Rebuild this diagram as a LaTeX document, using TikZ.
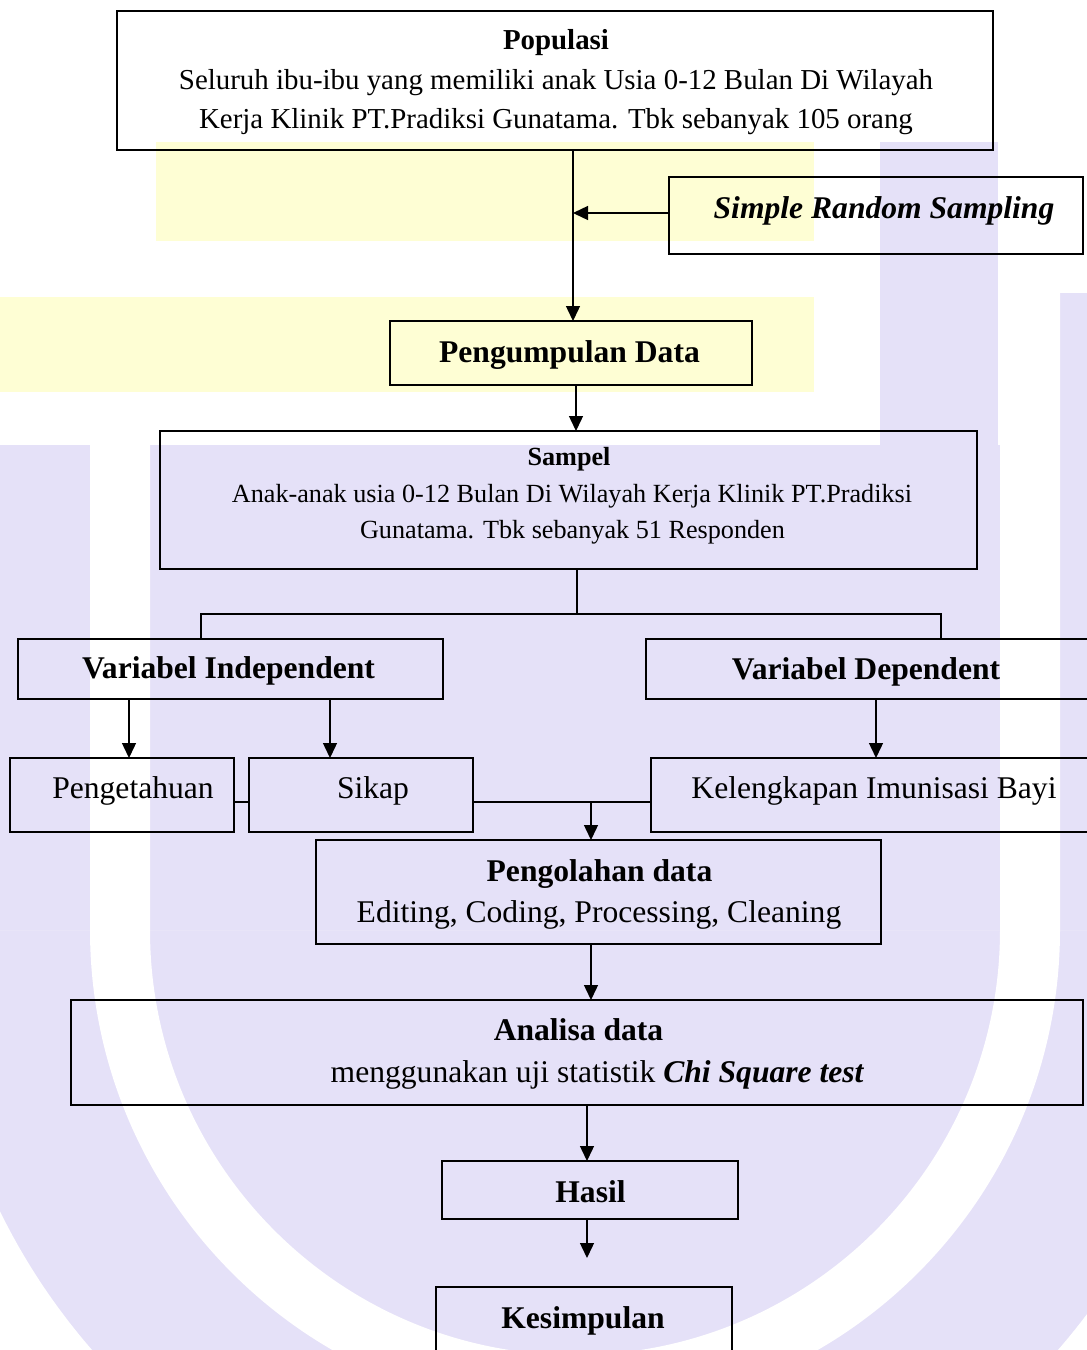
\documentclass[tikz,border=0pt]{standalone}
\usepackage{fontspec}
\setmainfont{Liberation Serif}
\usetikzlibrary{arrows.meta,calc}
\definecolor{lav}{RGB}{229,225,248}
\definecolor{ylw}{RGB}{254,254,212}
\begin{document}
\begin{tikzpicture}[x=1pt,y=-1pt,
  box/.style={draw=black, line width=1.8pt, rectangle, inner sep=0pt, outer sep=0pt},
  conn/.style={draw=black, line width=1.4pt},
  arr/.style={conn, -{Triangle[length=15pt,width=14pt]}},
  txt/.style={anchor=base, inner sep=0pt, outer sep=0pt, text=black},
  big/.style={font=\fontsize{31.6}{36}\selectfont},
  mid/.style={font=\fontsize{28.9}{34}\selectfont},
  sml/.style={font=\fontsize{26.2}{31}\selectfont}
]
\useasboundingbox (0,0) rectangle (1087,1350);
\clip (0,0) rectangle (1087,1350);

% watermark (background logo)
\fill[white] (0,0) rectangle (1087,1350);
\fill[ylw] (156,142) rectangle (814,241);
\fill[ylw] (0,297) rectangle (814,392);
\fill[lav] (0,445) rectangle (1087,1350);
\fill[lav] (880,142) rectangle (998,445);
\fill[lav] (1060,293) rectangle (1087,445);
\draw[white, line width=60pt] (120,445) -- (120,930) arc[start angle=180, end angle=0, radius=455] -- (1030,140);
\begin{scope}
  \clip (0,930) rectangle (1087,1350);
  \fill[white, even odd rule] (-10,930) rectangle (1100,1360) (575,930) circle[radius=640];
\end{scope}

% boxes
\node[box, minimum width=876pt, minimum height=139pt] (pop) at (555,80.5) {};
\node[box, minimum width=414pt, minimum height=77pt] (srs) at (876,215.5) {};
\node[box, minimum width=362pt, minimum height=64pt] (peng) at (571,353) {};
\node[box, minimum width=817pt, minimum height=138pt] (sam) at (568.5,500) {};
\node[box, minimum width=425pt, minimum height=60pt] (vi) at (230.5,669) {};
\node[box, minimum width=449pt, minimum height=60pt] (vd) at (870.5,669) {};
\node[box, minimum width=224pt, minimum height=74pt] (pt) at (122,795) {};
\node[box, minimum width=224pt, minimum height=74pt] (sk) at (361,795) {};
\node[box, minimum width=444pt, minimum height=74pt] (kib) at (873,795) {};
\node[box, minimum width=565pt, minimum height=104pt] (olah) at (598.5,892) {};
\node[box, minimum width=1012pt, minimum height=105pt] (ana) at (577,1052.5) {};
\node[box, minimum width=296pt, minimum height=58pt] (has) at (590,1190) {};
\node[box, minimum width=296pt, minimum height=73pt] (kes) at (584,1323.5) {};

% texts
\node[txt, mid] (popT0) at (556,49) {\textbf{Populasi}};
\node[txt, mid] (popT1) at (556,89) {Seluruh ibu-ibu yang memiliki anak Usia 0-12 Bulan Di Wilayah};
\node[txt, mid] (popT2) at (556,128) {Kerja Klinik PT.Pradiksi Gunatama. Tbk sebanyak 105 orang};
\node[txt, big] (srsT) at (884,218) {\textbf{\textit{Simple Random Sampling}}};
\node[txt, big] (pengT) at (569.5,362) {\textbf{Pengumpulan Data}};
\node[txt, sml] (samT0) at (569,465) {\textbf{Sampel}};
\node[txt, sml] (samT1) at (572,502) {Anak-anak usia 0-12 Bulan Di Wilayah Kerja Klinik PT.Pradiksi};
\node[txt, sml] (samT2) at (572.5,538) {Gunatama. Tbk sebanyak 51 Responden};
\node[txt, big] (viT) at (228.5,678) {\textbf{Variabel Independent}};
\node[txt, big] (vdT) at (866,679) {\textbf{Variabel Dependent}};
\node[txt, big] (ptT) at (133,798) {Pengetahuan};
\node[txt, big] (skT) at (373,798) {Sikap};
\node[txt, big] (kibT) at (874,798) {Kelengkapan Imunisasi Bayi};
\node[txt, big] (olahT0) at (599.5,881) {\textbf{Pengolahan data}};
\node[txt, big] (olahT1) at (599,922) {Editing, Coding, Processing, Cleaning};
\node[txt, big] (anaT0) at (578.5,1040) {\textbf{Analisa data}};
\node[txt, big] (anaT1) at (597.5,1082) {menggunakan uji statistik \textbf{\textit{Chi Square test}}};
\node[txt, big] (hasT) at (590.5,1202) {\textbf{Hasil}};
\node[txt, big] (kesT) at (583,1328) {\textbf{Kesimpulan}};

% helper coordinates
\coordinate (xA) at (573,0);
\coordinate (yS) at (0,213);
\coordinate (xB) at (576,0);
\coordinate (split) at (577,614);
\coordinate (jl) at (201,614);
\coordinate (jr) at (941,614);
\coordinate (xC) at (129,0);
\coordinate (xD) at (330,0);
\coordinate (xE) at (876,0);
\coordinate (yF) at (0,802);
\coordinate (jm) at (591,802);
\coordinate (xG) at (591,0);
\coordinate (xH) at (587,0);
\coordinate (kend) at (587,1258);

% connectors
\draw[arr] (pop.south -| xA) -- (peng.north -| xA);
\draw[arr] (srs.west |- yS) -- (xA |- yS);
\draw[arr] (peng.south -| xB) -- (sam.north -| xB);
\draw[conn] (sam.south -| split) -- (split);
\draw[conn] (vi.north -| jl) -- (jl) -- (jr) -- (vd.north -| jr);
\draw[arr] (vi.south -| xC) -- (pt.north -| xC);
\draw[arr] (vi.south -| xD) -- (sk.north -| xD);
\draw[arr] (vd.south -| xE) -- (kib.north -| xE);
\draw[conn] (pt.east |- yF) -- (sk.west |- yF);
\draw[conn] (sk.east |- yF) -- (kib.west |- yF);
\draw[arr] (jm) -- (olah.north -| jm);
\draw[arr] (olah.south -| xG) -- (ana.north -| xG);
\draw[arr] (ana.south -| xH) -- (has.north -| xH);
\draw[arr] (has.south -| kend) -- (kend);
\end{tikzpicture}
\end{document}
